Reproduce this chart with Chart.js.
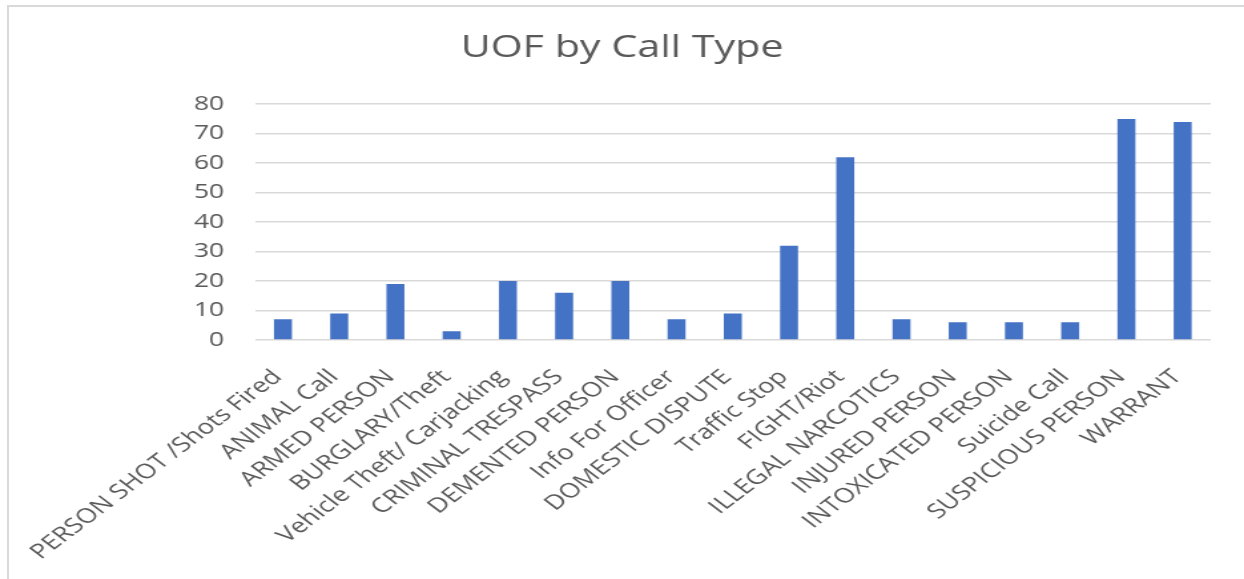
<!DOCTYPE html>
<html lang="en">
<head>
  <meta charset="UTF-8">
  <title>UOF by Call Type</title>
  <script src="https://cdn.jsdelivr.net/npm/chart.js"></script>
  <style>
    html, body {
      margin: 0;
      padding: 0;
      background: #fff;
      overflow: hidden;
    }
    #frame {
      position: absolute;
      left: 7px;
      top: 5px;
      width: 1300px;
      height: 600px;
      border-top: 2px solid #d9d9d9;
      border-left: 2px solid #d9d9d9;
    }
    /* the source picture is stretched sideways, so the chart is too */
    #wrap {
      position: absolute;
      left: 0;
      top: 0;
      width: 935px;
      height: 579px;
      transform: scaleX(1.3305);
      transform-origin: 0 0;
    }
  </style>
</head>
<body>
  <div id="frame"></div>
  <div id="wrap"><canvas id="chart"></canvas></div>

  <script>
    // Data
    const callTypes = [
      'PERSON SHOT /Shots Fired', 'ANIMAL Call', 'ARMED PERSON', 'BURGLARY/Theft',
      'Vehicle Theft/ Carjacking', 'CRIMINAL TRESPASS', 'DEMENTED PERSON', 'Info For Officer',
      'DOMESTIC DISPUTE', 'Traffic Stop', 'FIGHT/Riot', 'ILLEGAL NARCOTICS',
      'INJURED PERSON', 'INTOXICATED PERSON', 'Suicide Call', 'SUSPICIOUS PERSON', 'WARRANT'
    ];
    const uofCounts = [7, 9, 19, 3, 20, 16, 20, 7, 9, 32, 62, 7, 6, 6, 6, 75, 74];
    const yTicks = [0, 10, 20, 30, 40, 50, 60, 70, 80];

    const textGray = '#595959';
    const gridGray = '#d9d9d9';

    new Chart(document.getElementById('chart'), {
      type: 'bar',
      data: {
        labels: callTypes,
        datasets: [{
          label: 'UOF',
          data: uofCounts,
          backgroundColor: '#4472c4',
          borderWidth: 0,
          barPercentage: 0.32,
          categoryPercentage: 1
        }]
      },
      options: {
        responsive: true,
        maintainAspectRatio: false,
        animation: false,
        layout: {
          padding: { left: 25, right: 25, top: 0, bottom: 0 }
        },
        plugins: {
          legend: { display: false },
          tooltip: { enabled: false },
          title: {
            display: true,
            text: 'UOF by Call Type',
            color: textGray,
            font: { family: 'Open Sans', size: 31, weight: 'normal' },
            padding: { top: 30, bottom: 37 }
          }
        },
        scales: {
          x: {
            grid: { display: false, drawTicks: false },
            border: { display: false },
            afterFit: (scale) => { scale.height = 239; },
            ticks: {
              autoSkip: false,
              minRotation: 45,
              maxRotation: 45,
              padding: 25,
              labelOffset: -4,
              color: textGray,
              font: { family: 'Open Sans', size: 20.5 }
            }
          },
          y: {
            min: 0,
            max: yTicks[yTicks.length - 1],
            afterBuildTicks: (scale) => {
              scale.ticks = yTicks.map(v => ({ value: v }));
            },
            afterFit: (scale) => { scale.width = 165; },
            grid: { color: gridGray, lineWidth: 1.5, drawTicks: false },
            border: { display: false },
            ticks: {
              padding: 23,
              color: textGray,
              font: { family: 'Open Sans', size: 20 }
            }
          }
        }
      }
    });
  </script>
</body>
</html>
